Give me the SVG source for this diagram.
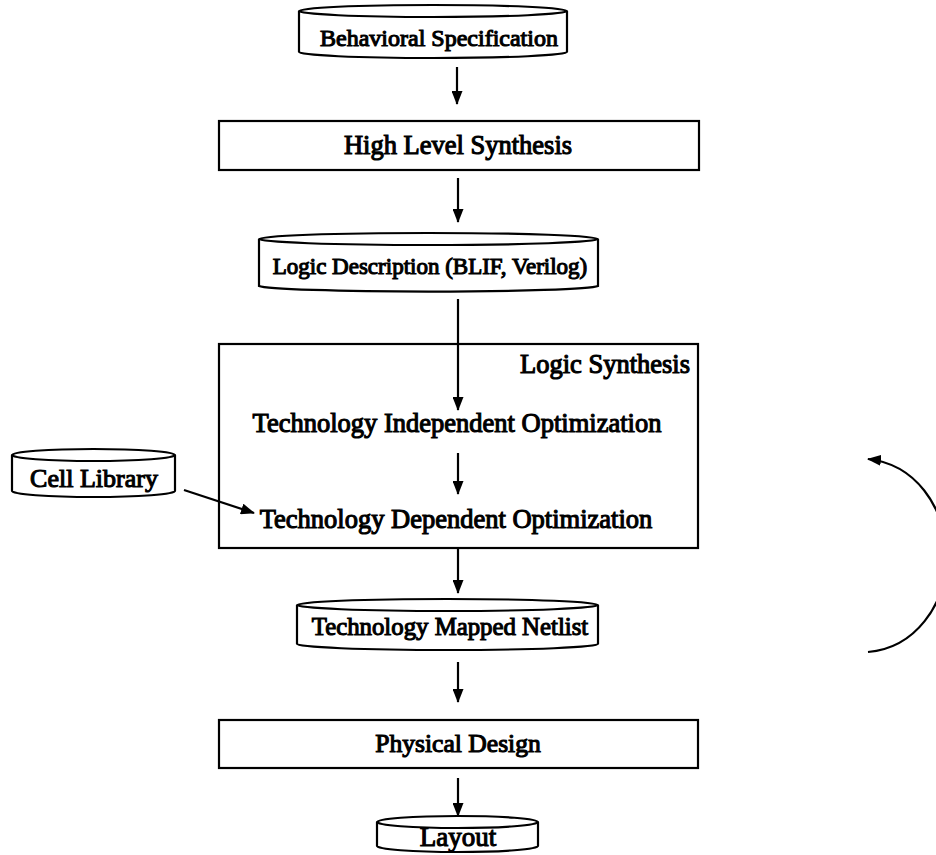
<svg xmlns="http://www.w3.org/2000/svg" width="936" height="855" viewBox="0 0 936 855">
<style>
.s{fill:none;stroke:#000;stroke-width:2.2}
.b{fill:#fff;stroke:#000;stroke-width:2.2}
.t{font-family:"Liberation Serif","Times New Roman",serif;font-size:26.5px;fill:#000;stroke:#000;stroke-width:1.1;text-anchor:middle}
.c{fill:none;stroke:#000;stroke-width:2.2}
</style>
<defs>
<marker id="ah" viewBox="0 0 14 11" refX="13" refY="5.5" markerWidth="14" markerHeight="11" markerUnits="userSpaceOnUse" orient="auto">
<path d="M0,0 L14,5.5 L0,11 Z" fill="#000"/>
</marker>
</defs>
<rect width="936" height="855" fill="#fff"/>

<g id="behavioral">
<path class="b" d="M299,11 L299,52 A134,6 0 0 0 567,52 L567,11"/>
<ellipse class="b" cx="433" cy="11" rx="134" ry="6"/>
<text class="t" x="439" y="46" style="font-size:24px">Behavioral Specification</text>
</g>

<g id="hls">
<rect class="b" x="219" y="121" width="480" height="49"/>
<text class="t" x="458" y="154">High Level Synthesis</text>
</g>

<g id="logicdesc">
<path class="b" d="M259,239 L259,286 A170,6 0 0 0 598,286 L598,239"/>
<ellipse class="b" cx="428.5" cy="239" rx="169.5" ry="6"/>
<text class="t" x="430" y="274" style="font-size:23px">Logic Description (BLIF, Verilog)</text>
</g>

<g id="logicsynth">
<rect class="s" x="219" y="344" width="479" height="204"/>
<text class="t" x="690" y="373" style="text-anchor:end">Logic Synthesis</text>
<text class="t" x="457" y="432">Technology Independent Optimization</text>
<text class="t" x="456" y="528">Technology Dependent Optimization</text>
</g>

<g id="celllib">
<path class="b" d="M12,455 L12,491 A81.5,6 0 0 0 175,491 L175,455"/>
<ellipse class="b" cx="93.5" cy="455" rx="81.5" ry="6"/>
<text class="t" x="94" y="487" style="font-size:26px">Cell Library</text>
</g>

<g id="netlist">
<path class="b" d="M297,605 L297,644 A150.5,6 0 0 0 598,644 L598,605"/>
<ellipse class="b" cx="447.5" cy="605" rx="150.5" ry="6"/>
<text class="t" x="450" y="635" style="font-size:24.8px">Technology Mapped Netlist</text>
</g>

<g id="physical">
<rect class="b" x="219" y="720" width="479" height="48"/>
<text class="t" x="458" y="752" style="font-size:25.6px">Physical Design</text>
</g>

<g id="layout">
<path class="b" d="M377,822 L377,846 A80.5,6 0 0 0 538,846 L538,822"/>
<ellipse class="b" cx="457.5" cy="822" rx="80.5" ry="6"/>
<text class="t" x="458" y="846" style="font-size:27px">Layout</text>
</g>

<g id="connectors">
<line class="c" x1="457" y1="67" x2="457" y2="104" marker-end="url(#ah)"/>
<line class="c" x1="458" y1="178" x2="458" y2="222" marker-end="url(#ah)"/>
<line class="c" x1="458" y1="299" x2="458" y2="410" marker-end="url(#ah)"/>
<line class="c" x1="458" y1="453" x2="458" y2="494" marker-end="url(#ah)"/>
<line class="c" x1="184" y1="490" x2="254" y2="513" marker-end="url(#ah)"/>
<line class="c" x1="458" y1="548" x2="458" y2="593" marker-end="url(#ah)"/>
<line class="c" x1="458" y1="662" x2="458" y2="702" marker-end="url(#ah)"/>
<line class="c" x1="458" y1="778" x2="458" y2="816" marker-end="url(#ah)"/>
<path class="c" stroke-width="3" d="M868,652 C915,648 946,605 946,558 C946,505 914,464 868,459" marker-end="url(#ah)"/>
</g>
</svg>
